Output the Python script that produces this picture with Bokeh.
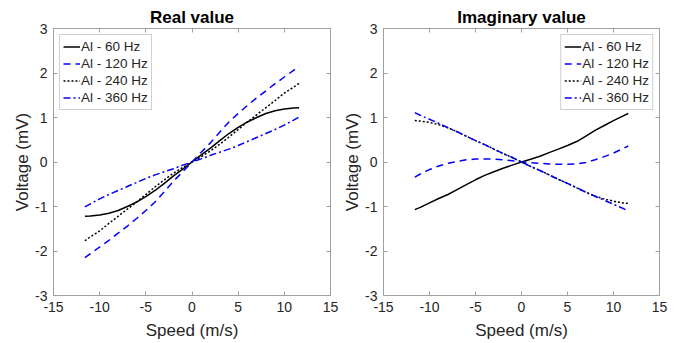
from bokeh.plotting import figure
from bokeh.layouts import row
from bokeh.models import LinearAxis, FixedTicker, Range1d
from bokeh.embed import file_html
from bokeh.resources import INLINE

# Speed samples (m/s)
speed = [-11.6, -11, -10, -9, -8, -7, -6, -5, -4, -3, -2, -1, 0,
         1, 2, 3, 4, 5, 6, 7, 8, 9, 10, 11, 11.6]

# Real part of the induced voltage (mV)
real_60 = [-1.22, -1.215, -1.19, -1.15, -1.09, -1.00, -0.90, -0.78, -0.64, -0.48, -0.31, -0.16, 0,
           0.16, 0.31, 0.48, 0.64, 0.78, 0.90, 1.00, 1.09, 1.15, 1.19, 1.215, 1.22]
real_120 = [-2.15, -2.06, -1.91, -1.76, -1.60, -1.44, -1.27, -1.09, -0.90, -0.67, -0.43, -0.22, 0,
            0.22, 0.43, 0.67, 0.90, 1.09, 1.27, 1.44, 1.60, 1.76, 1.91, 2.06, 2.15]
real_240 = [-1.77, -1.68, -1.55, -1.38, -1.22, -1.06, -0.90, -0.73, -0.56, -0.40, -0.25, -0.12, 0,
            0.12, 0.25, 0.40, 0.56, 0.73, 0.90, 1.06, 1.22, 1.38, 1.55, 1.68, 1.77]
real_360 = [-1.01, -0.94, -0.83, -0.73, -0.64, -0.55, -0.46, -0.37, -0.29, -0.22, -0.15, -0.07, 0,
            0.07, 0.15, 0.22, 0.29, 0.37, 0.46, 0.55, 0.64, 0.73, 0.83, 0.94, 1.01]

# Imaginary part of the induced voltage (mV)
imag_60 = [-1.07, -1.02, -0.92, -0.82, -0.73, -0.62, -0.51, -0.40, -0.30, -0.22, -0.14, -0.07, 0,
           0.06, 0.13, 0.21, 0.29, 0.37, 0.46, 0.58, 0.71, 0.82, 0.93, 1.03, 1.09]
imag_120 = [-0.34, -0.27, -0.17, -0.09, -0.03, 0.01, 0.05, 0.065, 0.07, 0.065, 0.05, 0.03, 0,
            -0.015, -0.03, -0.045, -0.05, -0.05, -0.04, -0.01, 0.05, 0.12, 0.20, 0.30, 0.36]
imag_240 = [0.93, 0.92, 0.89, 0.84, 0.77, 0.68, 0.58, 0.48, 0.39, 0.29, 0.19, 0.10, 0,
            -0.10, -0.19, -0.29, -0.39, -0.48, -0.58, -0.68, -0.77, -0.83, -0.88, -0.92, -0.93]
imag_360 = [1.11, 1.05, 0.96, 0.87, 0.77, 0.68, 0.58, 0.48, 0.39, 0.29, 0.19, 0.10, 0,
            -0.10, -0.19, -0.29, -0.39, -0.48, -0.58, -0.68, -0.77, -0.86, -0.95, -1.04, -1.10]

labels = ["Al - 60 Hz", "Al - 120 Hz", "Al - 240 Hz", "Al - 360 Hz"]
x_ticks = [-15, -10, -5, 0, 5, 10, 15]
x_tick_labels = ["-15", "-10", "-5", "0", "5", "10", "15"]
y_ticks = [-3, -2, -1, 0, 1, 2, 3]
y_tick_labels = ["-3", "-2", "-1", "0", "1", "2", "3"]

FONT = "Liberation Sans"
AXIS_COLOR = "#a0a0a0"
TEXT_COLOR = "#262626"
styles = [
    dict(line_color="black", line_dash="solid"),
    dict(line_color="#0000ff", line_dash="7 5"),
    dict(line_color="black", line_dash="2 2"),
    dict(line_color="#0000ff", line_dash="7 3 2 3"),
]


def style_axis(ax, ticks, tick_labels, show_labels=True, label_standoff=3):
    ax.ticker = FixedTicker(ticks=ticks)
    ax.axis_line_color = AXIS_COLOR
    ax.major_tick_line_color = AXIS_COLOR
    ax.major_tick_in = 4
    ax.major_tick_out = 0
    ax.minor_tick_line_color = None
    ax.major_label_text_font = FONT
    ax.axis_label_text_font = FONT
    ax.axis_label_text_color = TEXT_COLOR
    ax.axis_label_text_font_style = "normal"
    if show_labels:
        ax.major_label_overrides = {t: s for t, s in zip(ticks, tick_labels)}
        ax.major_label_text_color = TEXT_COLOR
        ax.major_label_text_font_size = "14px"
        ax.axis_label_text_font_size = "17px"
        ax.major_label_standoff = 6
        ax.axis_label_standoff = label_standoff
    else:
        # frame ticks only, no numbers
        ax.major_label_text_color = None
        ax.major_label_text_font_size = "1px"
        ax.major_label_standoff = 0


def make_panel(title, series, width, border_left, border_right, legend_loc):
    p = figure(width=width, height=343, output_backend="svg", toolbar_location=None,
               x_range=Range1d(-15, 15), y_range=Range1d(-3, 3),
               min_border_left=border_left, min_border_right=border_right,
               min_border_top=28, min_border_bottom=48)
    p.title.text = title
    p.title.align = "center"
    p.title.text_font = FONT
    p.title.text_font_size = "17px"
    p.title.text_font_style = "bold"
    p.title.text_color = "black"
    p.title.standoff = 3
    p.xgrid.visible = False
    p.ygrid.visible = False
    p.outline_line_color = AXIS_COLOR
    p.background_fill_color = "white"
    p.border_fill_color = "white"

    for ys, lab, st in zip(series, labels, styles):
        p.line(speed, ys, line_width=1.5, legend_label=lab, **st)

    p.xaxis.axis_label = "Speed (m/s)"
    p.yaxis.axis_label = "Voltage (mV)"
    style_axis(p.xaxis[0], x_ticks, x_tick_labels, label_standoff=6)
    style_axis(p.yaxis[0], y_ticks, y_tick_labels, label_standoff=0)

    top = LinearAxis()
    right = LinearAxis()
    style_axis(top, x_ticks, x_tick_labels, show_labels=False)
    style_axis(right, y_ticks, y_tick_labels, show_labels=False)
    p.add_layout(top, "above")
    p.add_layout(right, "right")

    lg = p.legend[0]
    lg.location = legend_loc
    lg.margin = 6
    lg.padding = 3
    lg.spacing = 0
    lg.glyph_width = 17
    lg.glyph_height = 17
    lg.label_height = 17
    lg.label_standoff = 1
    lg.label_text_font = FONT
    lg.label_text_font_size = "13.5px"
    lg.label_text_color = TEXT_COLOR
    lg.border_line_color = AXIS_COLOR
    lg.background_fill_alpha = 1.0
    return p


p1 = make_panel("Real value", [real_60, real_120, real_240, real_360],
                340, 53, 10, "top_left")
p2 = make_panel("Imaginary value", [imag_60, imag_120, imag_240, imag_360],
                341, 40, 22, "top_right")

layout = row(p1, p2)
open("out.html", "w").write(file_html(layout, INLINE))
